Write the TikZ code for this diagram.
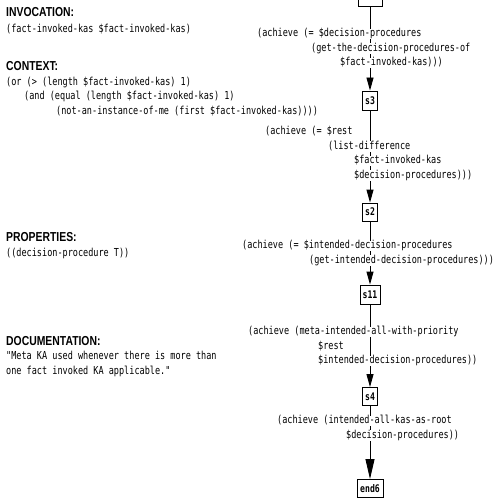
\documentclass[tikz,border=0pt]{standalone}
\usepackage{fontspec}
\newfontfamily\codefont[FakeStretch=0.775]{DejaVu Sans Mono}
\newfontfamily\headfont[FakeStretch=0.8]{Liberation Sans}
\usetikzlibrary{arrows.meta}
\tikzset{
  code/.style={anchor=west, inner sep=0pt, font=\codefont\fontsize{11}{12}\selectfont, text height=8pt, text depth=2.5pt},
  lbl/.style={code, fill=white},
  head/.style={anchor=west, inner sep=0pt, font=\headfont\bfseries\fontsize{13}{15}\selectfont},
  state/.style={draw, line width=0.9pt, inner sep=0pt, minimum height=18pt, fill=white, font=\codefont\bfseries\fontsize{10.5}{12}\selectfont},
  flow/.style={line width=0.9pt, -{Triangle[length=13pt,width=7pt]}},
  bigflow/.style={line width=0.9pt, -{Triangle[length=20pt,width=9pt]}},
}
\begin{document}
\begin{tikzpicture}[x=1pt,y=-1pt]
\useasboundingbox (0,0) rectangle (495,500);
\clip (0,0) rectangle (495,500);
% left column
\node[head] (hinv) at (6,12) {INVOCATION:};
\node[code] (inv) at (6,29.5) {(fact-invoked-kas \$fact-invoked-kas)};
\node[head] (hctx) at (6,66) {CONTEXT:};
\node[code] (ctx1) at (6,82.5) {(or (> (length \$fact-invoked-kas) 1)};
\node[code] (ctx2) at (24,97) {(and (equal (length \$fact-invoked-kas) 1)};
\node[code] (ctx3) at (56,111.5) {(not-an-instance-of-me (first \$fact-invoked-kas))))};
\node[head] (hprop) at (6,237) {PROPERTIES:};
\node[code] (prop) at (6,254) {((decision-procedure T))};
\node[head] (hdoc) at (6,341) {DOCUMENTATION:};
\node[code] (doc1) at (6,357) {"Meta KA used whenever there is more than};
\node[code] (doc2) at (6,371.5) {one fact invoked KA applicable."};
% states
\node[state, minimum width=24pt, minimum height=20pt] (start) at (370,-4) {};
\node[state, minimum width=15pt, minimum height=19pt] (s3) at (370,100.5) {s3};
\node[state, minimum width=15pt] (s2) at (370,212) {s2};
\node[state, minimum width=20pt, minimum height=19pt] (s11) at (370,294.5) {s11};
\node[state, minimum width=15pt] (s4) at (370,396.5) {s4};
\node[state, minimum width=26pt] (end6) at (370,488.5) {end6};
% connectors
\draw[flow] (start) -- (s3);
\draw[flow] (s3) -- (s2);
\draw[flow] (s2) -- (s11);
\draw[flow] (s11) -- (s4);
\draw[bigflow] (s4) -- (end6);
% edge labels
\node[lbl] (a1) at (257,34) {(achieve (= \$decision-procedures};
\node[lbl] (a2) at (311,48.5) {(get-the-decision-procedures-of};
\node[lbl] (a3) at (340,63) {\$fact-invoked-kas)))};
\node[lbl] (b1) at (265,132) {(achieve (= \$rest};
\node[lbl] (b2) at (328,146.5) {(list-difference};
\node[lbl] (b3) at (354,161) {\$fact-invoked-kas};
\node[lbl] (b4) at (354,175.5) {\$decision-procedures)))};
\node[lbl] (c1) at (242,246) {(achieve (= \$intended-decision-procedures};
\node[lbl] (c2) at (309,260.5) {(get-intended-decision-procedures)))};
\node[lbl] (d1) at (248,332) {(achieve (meta-intended-all-with-priority};
\node[lbl] (d2) at (318,346.5) {\$rest};
\node[lbl] (d3) at (318,361) {\$intended-decision-procedures))};
\node[lbl] (e1) at (277,421) {(achieve (intended-all-kas-as-root};
\node[lbl] (e2) at (346,435.5) {\$decision-procedures))};
\end{tikzpicture}
\end{document}
